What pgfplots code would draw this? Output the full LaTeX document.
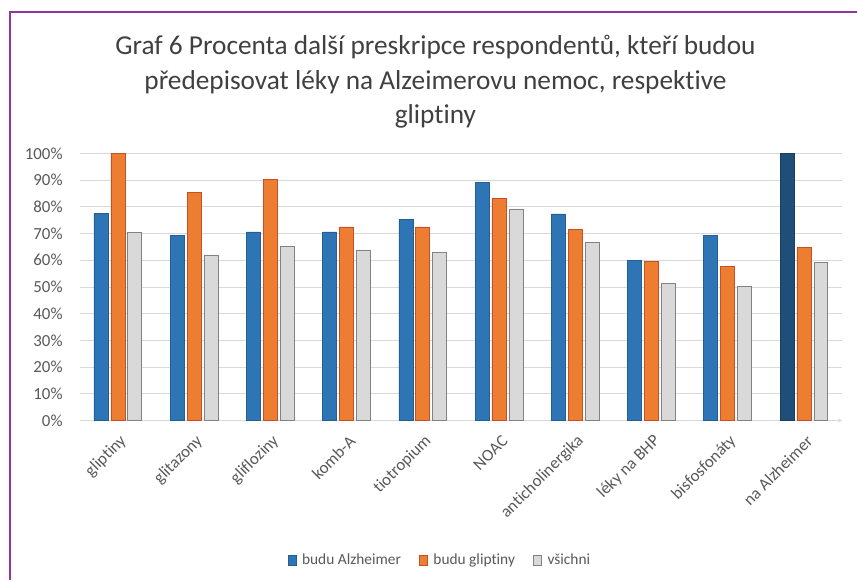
\documentclass[border=0pt]{standalone}
\usepackage{pgfplots}
\pgfplotsset{compat=1.18}
\usepackage{fontspec}
\setmainfont{Carlito}[Ligatures=NoCommon]
\definecolor{cblue}{RGB}{46,117,182}
\definecolor{cdblue}{RGB}{31,78,121}
\definecolor{corange}{RGB}{237,125,49}
\definecolor{corangeedge}{RGB}{200,80,40}
\definecolor{cgray}{RGB}{217,217,217}
\definecolor{cgrayedge}{RGB}{130,130,130}
\definecolor{cgrid}{RGB}{217,217,217}
\definecolor{ctext}{RGB}{89,89,89}
\definecolor{ctitle}{RGB}{64,64,64}
\definecolor{cframe}{RGB}{148,52,160}
\begin{document}
\begin{tikzpicture}[x=1bp,y=1bp]
\path[fill=white] (0,0) rectangle (858,580);
\draw[cframe,line width=2.2bp] (10,-2) -- (10,568) -- (860,568);
\begin{scope}[every node/.style={ctitle,anchor=base,font=\fontsize{27.5}{33}\selectfont,inner sep=0}]
\node at (437,525) {Graf 6 Procenta další preskripce respondentů, kteří budou};
\node at (437,490.5) {předepisovat léky na Alzeimerovu nemoc, respektive};
\node at (437,456) {gliptiny};
\end{scope}
\begin{axis}[
  at={(80bp,158bp)}, anchor=south west,
  scale only axis, width=765bp, height=268bp,
  xmin=-0.5, xmax=9.5, ymin=0, ymax=100,
  axis y line=left, axis x line=bottom,
  axis line style={draw=none},
  y axis line style={draw=none},
  x axis line style={draw=cgrid, line width=0.8bp},
  ytick={0,10,...,100},
  yticklabel={\pgfmathprintnumber[assume math mode=true]{\tick}\%},
  yticklabel style={font=\fontsize{17}{20}\selectfont, text=ctext, anchor=east, inner sep=0pt, xshift=-17bp},
  ymajorgrids, grid style={cgrid, line width=0.8bp},
  major tick length=0pt,
  xtick={0,...,9},
  xticklabels={gliptiny,glitazony,glifloziny,komb-A,tiotropium,NOAC,anticholinergika,léky na BHP,bisfosfonáty,na Alzheimer},
  xticklabel style={font=\fontsize{17}{20}\selectfont, text=ctext, xshift=6bp, yshift=-18bp, rotate=45, anchor=east, inner sep=0pt},
  legend style={at={(0.4725,-0.522)}, anchor=center, draw=none, legend columns=3,
    font=\fontsize{15.5}{18}\selectfont, text=ctext,
    /tikz/every odd column/.append style={column sep=4bp},
    /tikz/every even column/.append style={column sep=16bp}},
  legend image code/.code={\draw[#1] (0bp,-5bp) rectangle (8bp,5bp);},
]
\addplot[ybar, bar width=14bp, bar shift=-17bp, fill=cblue, draw=cblue!80!black, line width=0.5bp]
  coordinates {(0,77.5) (1,69.3) (2,70.6) (3,70.6) (4,75.3) (5,89.2) (6,77.4) (7,59.9) (8,69.2)};
\addlegendentry{budu Alzheimer}
\addplot[ybar, bar width=14bp, bar shift=0bp, fill=corange, draw=corangeedge, line width=0.6bp]
  coordinates {(0,100) (1,85.4) (2,90.3) (3,72.5) (4,72.5) (5,83.1) (6,71.5) (7,59.7) (8,57.8) (9,64.8)};
\addlegendentry{budu gliptiny}
\addplot[ybar, bar width=14bp, bar shift=17bp, fill=cgray, draw=cgrayedge, line width=0.6bp]
  coordinates {(0,70.5) (1,62.0) (2,65.3) (3,63.9) (4,63.0) (5,79.2) (6,66.7) (7,51.4) (8,50.1) (9,59.3)};
\addlegendentry{všichni}
\addplot[ybar, bar width=14bp, bar shift=-17bp, fill=cdblue, draw=cdblue!80!black, line width=0.5bp, forget plot]
  coordinates {(9,100)};
\end{axis}
\end{tikzpicture}
\end{document}
